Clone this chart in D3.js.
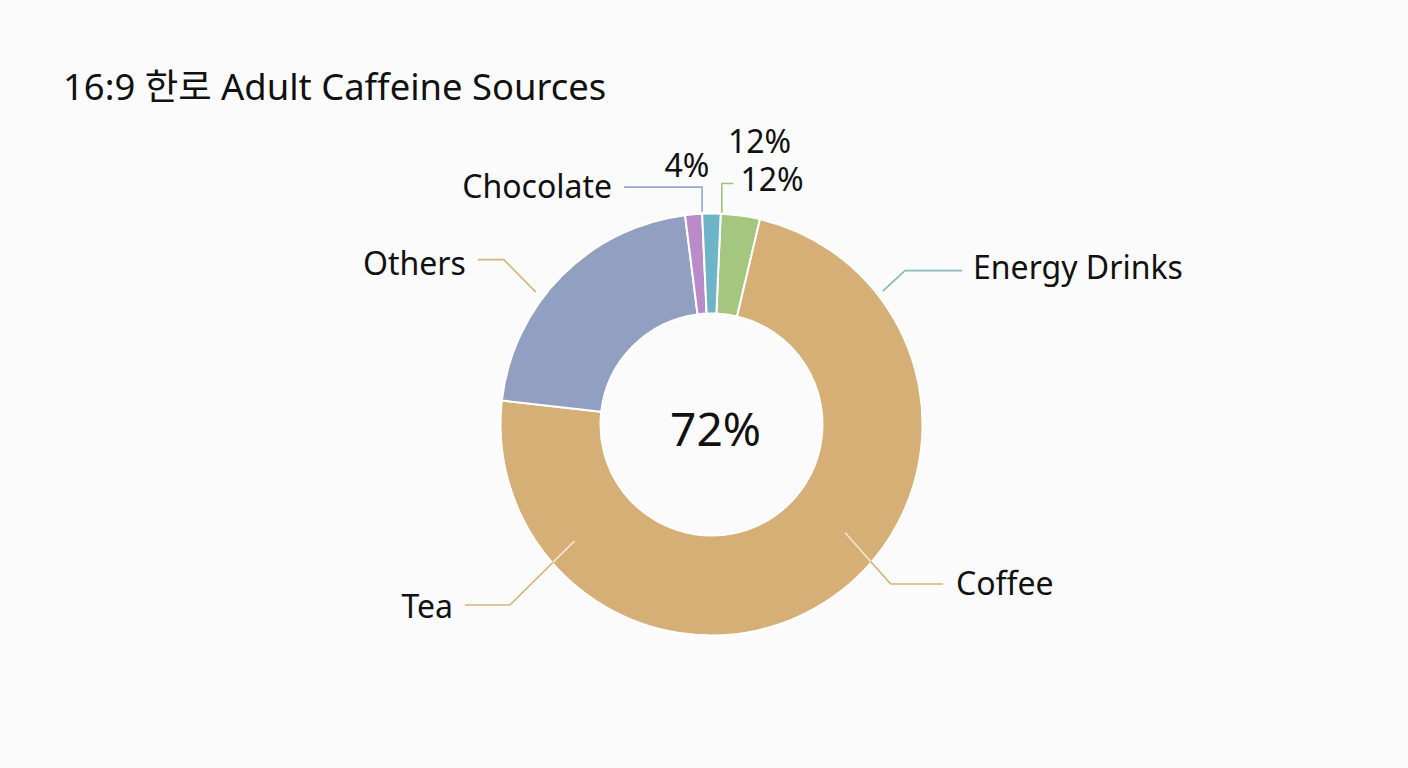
<!DOCTYPE html>
<html>
<head>
<meta charset="utf-8">
<script src="https://cdn.jsdelivr.net/npm/d3@7/dist/d3.min.js"></script>
<style>
  html, body { margin: 0; padding: 0; background: #fbfbfb; }
  svg { display: block; }
  text { font-family: "Noto Sans", "Noto Sans CJK KR", sans-serif; fill: #111; }
</style>
</head>
<body>
<svg id="chart" width="1408" height="768"></svg>
<script>
// ---- data ----
const chartTitle = "16:9 한로 Adult Caffeine Sources";
const centerLabel = "72%";
const sliceNames  = ["Energy Drinks", "Coffee", "Others", "Chocolate", "Unlabeled"];
const sliceValues = [3.0, 73.2, 21.2, 1.3, 1.4];
const sliceColors = ["#a4c67f", "#d6af77", "#91a0c1", "#b98bc8", "#6db4c9"];

// labels shown around the ring (texts as printed in the picture)
const labelTexts  = ["Others", "Energy Drinks", "Coffee", "Tea", "Chocolate", "12%"];
const labelColors = ["#d8b27c", "#8bb9b8", "#d8b27c", "#d8b27c", "#9aa6c8", "#9cc47a"];
const freeTexts   = ["4%", "12%"];

// ---- layout ----
const W = 1408, H = 768;
const cx = 711.5, cy = 424.5;
const outerR = 211, innerR = 111;
const deg = Math.PI / 180;
const startAngle = 2.5 * deg;

const svg = d3.select("#chart");
svg.append("rect").attr("width", W).attr("height", H).attr("fill", "#fbfbfb");

svg.append("text")
  .attr("x", 63).attr("y", 100)
  .attr("font-size", 36.4)
  .text(chartTitle);

const pie = d3.pie().sort(null).value(d => d)
  .startAngle(startAngle).endAngle(startAngle + 2 * Math.PI);
const arcs = pie(sliceValues);
const arc = d3.arc().innerRadius(innerR).outerRadius(outerR);

const g = svg.append("g").attr("transform", `translate(${cx},${cy})`);
g.selectAll("path.slice")
  .data(arcs)
  .join("path")
  .attr("class", "slice")
  .attr("d", arc)
  .attr("fill", (d, i) => sliceColors[i])
  .attr("stroke", "#ffffff")
  .attr("stroke-width", 2)
  .attr("stroke-linejoin", "round");

// clip to the ring so leader parts lying on a slice can be drawn lighter
svg.append("defs").append("clipPath").attr("id", "ringClip")
  .append("path")
  .attr("transform", `translate(${cx},${cy})`)
  .attr("d", d3.arc().innerRadius(innerR).outerRadius(outerR - 1)
    .startAngle(0).endAngle(2 * Math.PI)());

g.append("text")
  .attr("x", 4).attr("y", 21)
  .attr("text-anchor", "middle")
  .attr("font-size", 46)
  .text(centerLabel);

// leader lines: anchor on ring (angle in degrees, radius), then elbow, then horizontal run
const chocAngle = arcs[4].startAngle / deg;   // purple/teal boundary
const greenAngle = arcs[0].startAngle / deg + 0.3;
const leaders = [
  { a: 307,        r: 220, ex: -32,  ey: -32.5, hx: -26,  gap: 12, by: 15 },
  { a: 52.1,       r: 217, ex: 22.3, ey: -20.6, hx: 57,   gap: 11, by: 8.5 },
  { a: 129,        r: 172, ex: 45.5, ey: 51.3,  hx: 52.3, gap: 13, by: 11 },
  { a: 229.6,      r: 180, ex: -64.5,ey: 63.8,  hx: -45,  gap: 12, by: 13 },
  { a: chocAngle,  r: 213, ex: 0,    ey: -24.6, hx: -78,  gap: 12, by: 10.5 },
  { a: greenAngle, r: 212, ex: 0,    ey: -29.3, hx: 11.6, gap: 7,  by: 7.5 }
];

const overlay = svg.append("g").attr("clip-path", "url(#ringClip)")
  .append("g").attr("transform", `translate(${cx},${cy})`);

leaders.forEach((L, i) => {
  const p0 = d3.pointRadial(L.a * deg, L.r);
  const p1 = [p0[0] + L.ex, p0[1] + L.ey];
  const p2 = [p1[0] + L.hx, p1[1]];
  const path = d3.line()([p0, p1, p2]);
  g.append("path")
    .attr("d", path)
    .attr("fill", "none")
    .attr("stroke", labelColors[i])
    .attr("stroke-width", 1.6);
  overlay.append("path")
    .attr("d", path)
    .attr("fill", "none")
    .attr("stroke", "#f3e6d2")
    .attr("stroke-width", 1.6);
  const right = L.hx > 0;
  g.append("text")
    .attr("x", p2[0] + (right ? L.gap : -L.gap))
    .attr("y", p2[1] + L.by)
    .attr("text-anchor", right ? "start" : "end")
    .attr("font-size", 32)
    .text(labelTexts[i]);
});

// free-standing percentage texts near the top
svg.append("text").attr("x", 687).attr("y", 176.5)
  .attr("text-anchor", "middle").attr("font-size", 32).text(freeTexts[0]);
svg.append("text").attr("x", 728).attr("y", 153)
  .attr("text-anchor", "start").attr("font-size", 32).text(freeTexts[1]);
</script>
</body>
</html>
